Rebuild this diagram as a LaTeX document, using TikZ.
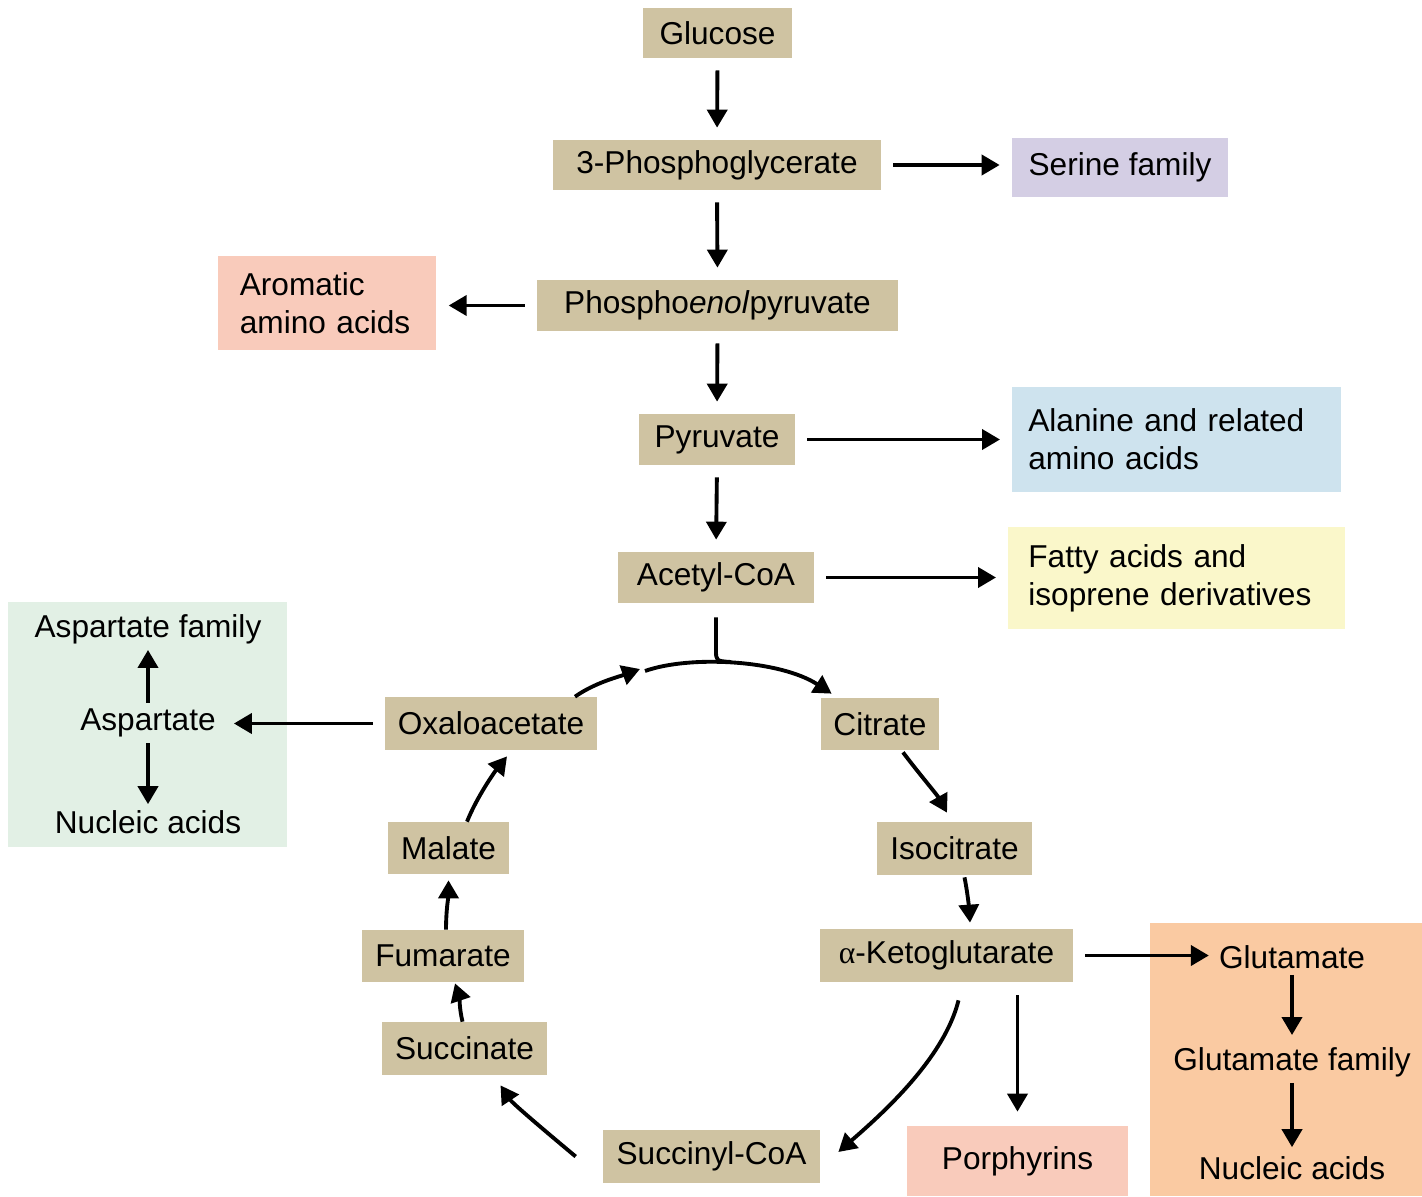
\documentclass[tikz,border=0pt]{standalone}
\usepackage{fontspec}
\setmainfont{Liberation Sans}
\newfontfamily\griega{Liberation Serif}
\usetikzlibrary{arrows.meta}

\definecolor{caja}{HTML}{CFC3A2}
\definecolor{serina}{HTML}{D4CEE4}
\definecolor{aromat}{HTML}{F9CBBB}
\definecolor{alanina}{HTML}{CEE3EE}
\definecolor{grasos}{HTML}{FAF7CA}
\definecolor{aspverde}{HTML}{E2F0E5}
\definecolor{glunaranja}{HTML}{FACAA2}

\begin{document}
\begin{tikzpicture}[x=0.02cm,y=-0.02cm,
		font=\fontsize{18}{21.5}\selectfont,
		paso/.style={fill=caja,inner sep=0pt,minimum height=1.04cm},
		lado/.style={anchor=west,align=left,inner ysep=0pt},
		gap/.style={shorten <=0.24cm,shorten >=0.24cm}]
			\useasboundingbox (0,0) rectangle (1422,1196);

			% fondos
			\fill[aspverde] (8,602) rectangle (287,847);
			\fill[glunaranja] (1150,923) rectangle (1422,1196);

			% glucolisis
			\node[paso,minimum width=2.98cm,minimum height=1cm] (glucose) at (717.5,33) {Glucose};
			\node[paso,minimum width=6.56cm,minimum height=1cm] (pga) at (717,165) {3-Phosphoglycerate};
			\node[paso,minimum width=7.22cm,minimum height=1.02cm] (pep) at (717.5,305.5) {Phospho\textit{enol}pyruvate};
			\node[paso,minimum width=3.12cm,minimum height=1.02cm] (piruvato) at (717,439.5) {Pyruvate};
			\node[paso,minimum width=3.92cm,minimum height=1.02cm] (acetil) at (716,577.5) {Acetyl-CoA};

			\node[fill=serina,inner sep=0pt,minimum width=4.32cm,minimum height=1.18cm] (serine) at (1120,167.5) {Serine family};
			\node[lado,fill=aromat,text width=3.5cm,inner xsep=0.43cm,minimum height=1.88cm] (aromatic) at (218,303) {Aromatic\\amino acids};
			\node[lado,fill=alanina,text width=5.94cm,inner xsep=0.32cm,minimum height=2.1cm] (alanine) at (1012,439.5) {Alanine and related\\amino acids};
			\node[lado,fill=grasos,text width=5.94cm,inner xsep=0.4cm,minimum height=2.04cm] (fatty) at (1008,578) {Fatty acids and\\isoprene derivatives};

			% ciclo
			\node[paso,minimum width=4.24cm,minimum height=1.06cm] (oaa) at (491,723.5) {Oxaloacetate};
			\node[paso,minimum width=2.36cm] (citrato) at (880,724) {Citrate};
			\node[paso,minimum width=3.1cm,minimum height=1.06cm] (isocitrato) at (954.5,848.5) {Isocitrate};
			\node[paso,minimum width=5.06cm,minimum height=1.06cm] (akg) at (946.5,955.5) {{\griega α}-Ketoglutarate};
			\node[paso,minimum width=4.34cm,minimum height=1.06cm] (succoa) at (711.5,1156.5) {Succinyl-CoA};
			\node[paso,minimum width=3.3cm,minimum height=1.06cm] (succinato) at (464.5,1048.5) {Succinate};
			\node[paso,minimum width=3.24cm] (fumarato) at (443,956) {Fumarate};
			\node[paso,minimum width=2.42cm] (malato) at (448.5,848) {Malate};
			\node[fill=aromat,inner sep=0pt,minimum width=4.42cm,minimum height=1.4cm] (porfirinas) at (1017.5,1161) {Porphyrins};

			\node (aspfam) at (148,629) {Aspartate family};
			\node (asp) at (148,723) {Aspartate};
			\node (aspnuc) at (148,822) {Nucleic acids};
			\node (glu) at (1292,957) {Glutamate};
			\node (glufam) at (1292,1062) {Glutamate family};
			\node (glunuc) at (1292,1168) {Nucleic acids};

			\coordinate (arcL) at (645,671);
			\coordinate (arcT) at (731,662);

			\begin{scope}[-{Triangle[length=0.36cm,width=0.4cm]},line width=2.2pt]
			\draw[gap] (glucose.south) -- (pga.north);
			\draw[gap] (pga.south) -- (pep.north);
			\draw[gap] (pep.south) -- (piruvato.north);
			\draw[gap] (piruvato.south) -- (acetil.north);
			\draw[gap] (pga.east) -- (pga.east -| serine.west);
			\draw[gap] (pep.west) -- (pep.west -| aromatic.east);
			\draw[gap] (piruvato.east) -- (piruvato.east -| alanine.west);
			\draw[gap] (acetil.east) -- (acetil.east -| fatty.west);

			\draw[gap] (oaa.west) -- (oaa.west -| asp.east);
			\draw (asp) -- (aspfam);
			\draw (asp) -- (aspnuc);
			\draw[shorten <=0.24cm,shorten >=0.08cm] (akg.east) -- (akg.east -| glu.west);
			\draw[shorten >=0.12cm] (glu) -- (glufam);
			\draw[shorten >=0.06cm] (glufam) -- (glunuc);
			\draw[shorten <=0.26cm,shorten >=0.28cm] (akg.south -| porfirinas.north) -- (porfirinas.north);

			% flechas del ciclo
			\draw ([shift={(84,0)}]oaa.north) .. controls +(20,-14) and +(-22,8) .. ([shift={(-5,-2)}]arcL);
			\draw (arcL) .. controls (690,655) and (780,660) .. ([shift={(11,-4)}]citrato.north west);
			\draw ([shift={(23,2)}]citrato.south) .. controls +(15,20) and +(-10,-18) .. ([shift={(-7.5,-9)}]isocitrato.north);
			\draw ([shift={(10,2)}]isocitrato.south) .. controls +(3,15) and +(-1,-15) .. ([shift={(23.5,-6)}]akg.north);
			\draw ([shift={(12,18)}]akg.south) .. controls +(-15,60) and +(40,-35) .. ([shift={(18,-4.5)}]succoa.east);
			\draw ([shift={(-27,0)}]succoa.west) .. controls +(-30,-25) and +(12,18) .. ([shift={(36,10)}]succinato.south);
			\draw ([shift={(-2,0)}]succinato.north) .. controls +(-3,-12) and +(4,12) .. ([shift={(12,1)}]fumarato.south);
			\draw ([shift={(3,0)}]fumarato.north) .. controls +(0,-20) and +(0,15) .. ([shift={(0,6)}]malato.south);
			\draw ([shift={(18.5,0)}]malato.north) .. controls +(10,-25) and +(-12,15) .. ([shift={(16,6)}]oaa.south);
			\end{scope}

			% entrada del acetil-CoA
			\draw[line width=2.2pt,shorten <=0.28cm] (acetil.south) -- (716,650) .. controls (716,661) .. (arcT);
		    \end{tikzpicture}
\end{document}
